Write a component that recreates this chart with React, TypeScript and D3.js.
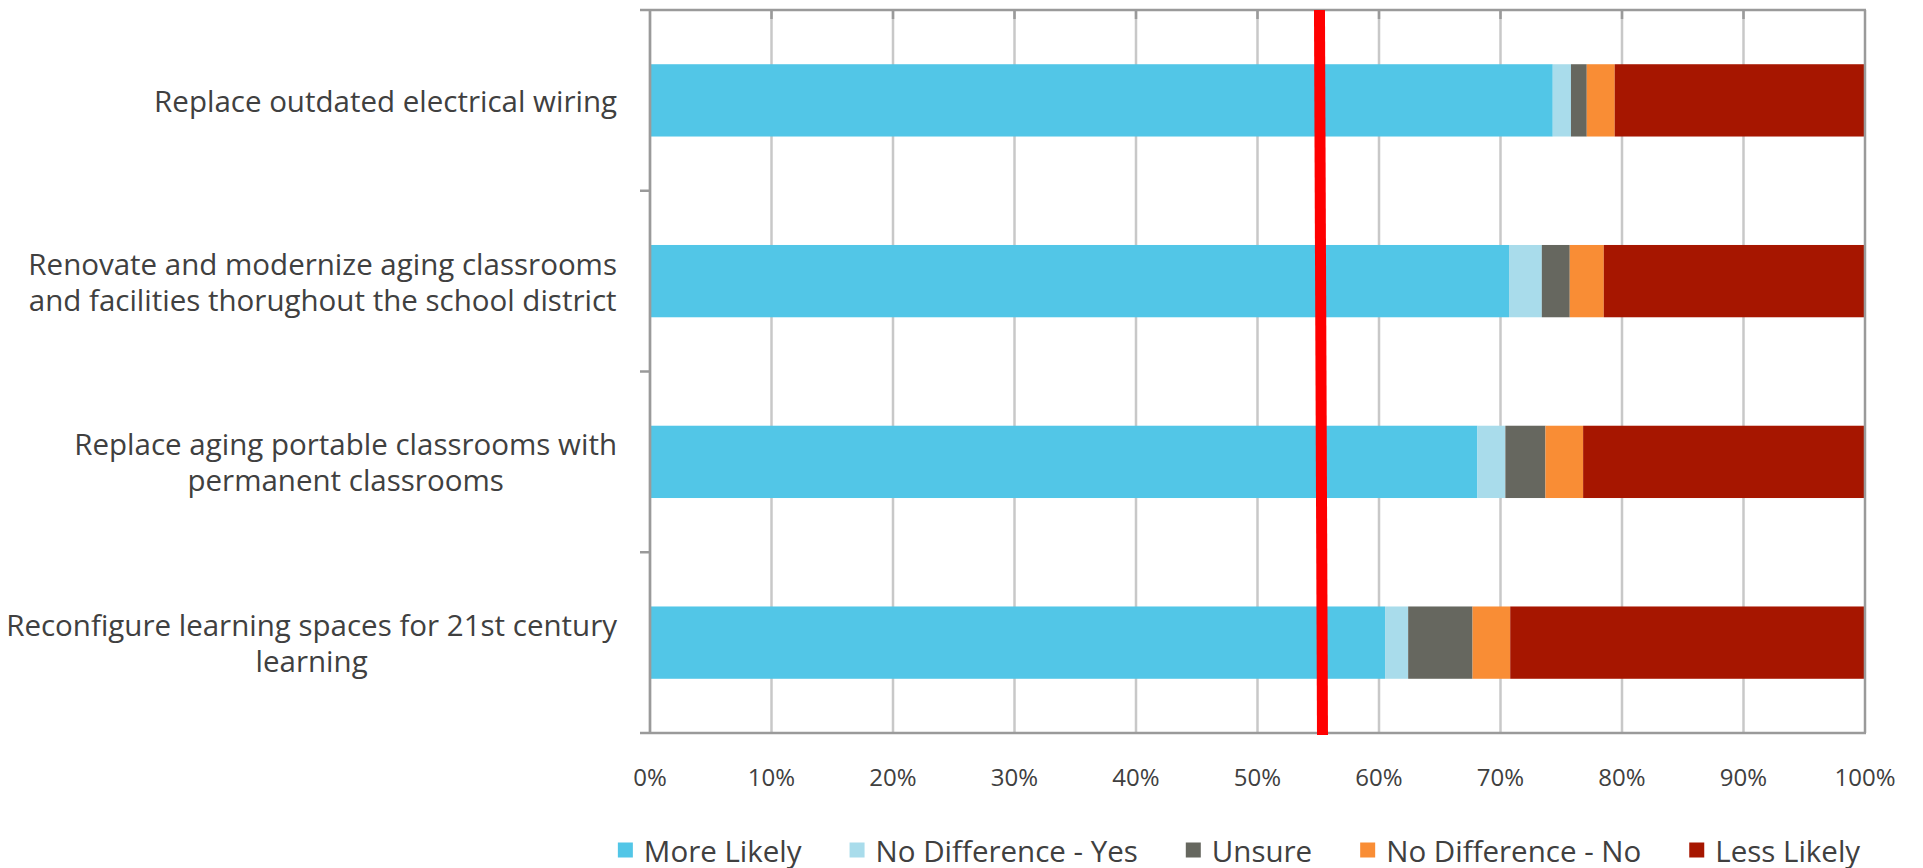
import React, { useEffect, useRef } from "react";
import * as d3 from "d3";

const categories = [
  "Replace outdated electrical wiring",
  "Renovate and modernize aging classrooms and facilities thorughout the school district",
  "Replace aging portable classrooms with permanent classrooms",
  "Reconfigure learning spaces for 21st century learning",
];
const categoryLines = [
  ["Replace outdated electrical wiring"],
  ["Renovate and modernize aging classrooms", "and facilities thorughout the school district"],
  ["Replace aging portable classrooms with", "permanent classrooms"],
  ["Reconfigure learning spaces for 21st century", "learning"],
];
const seriesNames = ["More Likely", "No Difference - Yes", "Unsure", "No Difference - No", "Less Likely"];
const moreLikely = [74.3, 70.7, 68.1, 60.5];
const noDiffYes = [1.5, 2.7, 2.3, 1.9];
const unsure = [1.3, 2.3, 3.3, 5.3];
const noDiffNo = [2.3, 2.8, 3.1, 3.1];
const lessLikely = [20.6, 21.5, 23.2, 29.2];
const xTicks = [0, 10, 20, 30, 40, 50, 60, 70, 80, 90, 100];
const xTickLabels = ["0%", "10%", "20%", "30%", "40%", "50%", "60%", "70%", "80%", "90%", "100%"];
const referenceLine = [55.1, 55.35]; // value at top, value at bottom

const colors = ["#52C6E7", "#A9DCEB", "#66675F", "#F98D35", "#A61600"];

export default function App() {
  const ref = useRef<SVGSVGElement>(null);
  useEffect(() => {
    const svg = d3.select(ref.current);
    svg.selectAll("*").remove();
    const W = 1923, H = 868;
    const left = 650, right = 1865, top = 10, bottom = 733;
    const font = "'Open Sans', sans-serif";
    const textColor = "#404040";

    const x = d3.scaleLinear().domain([0, 100]).range([left, right]);
    const y = d3.scaleBand<string>().domain(categories).range([top, bottom]).paddingInner(0.6).paddingOuter(0.3);
    const yOuter = d3.scaleBand<string>().domain(categories).range([top, bottom]);

    const series = [moreLikely, noDiffYes, unsure, noDiffNo, lessLikely];
    const rows = categories.map((c, i) => {
      const o: any = { cat: c };
      seriesNames.forEach((s, k) => (o[s] = series[k][i]));
      return o;
    });
    const stack = d3.stack<any>().keys(seriesNames)(rows);

    svg.append("rect").attr("width", W).attr("height", H).attr("fill", "#fff");

    // gridlines
    svg.append("g").selectAll("line").data(xTicks.slice(1, -1)).join("line")
      .attr("x1", (d) => x(d)).attr("x2", (d) => x(d))
      .attr("y1", top).attr("y2", bottom)
      .attr("stroke", "#C8C8C8").attr("stroke-width", 2.5);

    // bars
    stack.forEach((layer, k) => {
      svg.append("g").selectAll("rect").data(layer).join("rect")
        .attr("x", (d) => x(d[0]))
        .attr("width", (d) => x(d[1]) - x(d[0]))
        .attr("y", (d) => y(d.data.cat)!)
        .attr("height", y.bandwidth())
        .attr("fill", colors[k]);
    });

    // axes frame
    const axisColor = "#9A9A9A";
    svg.append("line").attr("x1", left).attr("x2", left).attr("y1", top).attr("y2", bottom)
      .attr("stroke", axisColor).attr("stroke-width", 2.7);
    svg.append("line").attr("x1", right).attr("x2", right).attr("y1", top).attr("y2", bottom)
      .attr("stroke", axisColor).attr("stroke-width", 2.5);
    svg.append("line").attr("x1", left - 10).attr("x2", right + 1).attr("y1", top).attr("y2", top)
      .attr("stroke", axisColor).attr("stroke-width", 2.7);
    svg.append("line").attr("x1", left - 10).attr("x2", right + 1).attr("y1", bottom).attr("y2", bottom)
      .attr("stroke", axisColor).attr("stroke-width", 2.7);
    // category ticks
    svg.append("g").selectAll("line").data(categories.slice(1)).join("line")
      .attr("x1", left - 10).attr("x2", left)
      .attr("y1", (d) => yOuter(d)!).attr("y2", (d) => yOuter(d)!)
      .attr("stroke", axisColor).attr("stroke-width", 2.5);
    // top ticks
    svg.append("g").selectAll("line").data(xTicks.slice(1, -1)).join("line")
      .attr("x1", (d) => x(d)).attr("x2", (d) => x(d))
      .attr("y1", top).attr("y2", top + 9)
      .attr("stroke", axisColor).attr("stroke-width", 2.5);

    // reference line
    svg.append("line")
      .attr("x1", x(referenceLine[0])).attr("x2", x(referenceLine[1]))
      .attr("y1", top).attr("y2", bottom + 2)
      .attr("stroke", "#FF0000").attr("stroke-width", 11);

    // x tick labels
    svg.append("g").selectAll("text").data(xTicks).join("text")
      .attr("x", (d) => x(d)).attr("y", 776)
      .attr("text-anchor", "middle").attr("dominant-baseline", "central")
      .attr("font-family", font).attr("font-size", 24).attr("fill", textColor)
      .text((d, i) => xTickLabels[i]);

    // category labels: lines centred within a block right-aligned to the axis gap
    const labelRight = 617;
    categories.forEach((c, i) => {
      const lines = categoryLines[i];
      const cy = yOuter(c)! + yOuter.bandwidth() / 2;
      const lh = 36;
      const g = svg.append("g");
      const texts = lines.map((ln, j) => {
        const ly = cy + (j - (lines.length - 1) / 2) * lh;
        return g.append("text")
          .attr("y", ly)
          .attr("text-anchor", "middle")
          .attr("dominant-baseline", "central")
          .attr("font-family", font).attr("font-size", 29.5).attr("fill", textColor)
          .text(ln);
      });
      const maxW = d3.max(texts, (t) => (t.node() as SVGTextElement).getComputedTextLength()) || 0;
      texts.forEach((t) => t.attr("x", labelRight - maxW / 2));
    });

    // legend
    const lg = svg.append("g");
    const sw = 15, gapSw = 11, gapItem = 48;
    let cur = 0;
    seriesNames.forEach((s, k) => {
      const g = lg.append("g");
      g.append("rect").attr("x", 0).attr("y", -sw / 2).attr("width", sw).attr("height", sw).attr("fill", colors[k]);
      const t = g.append("text").attr("x", sw + gapSw).attr("y", 0)
        .attr("dominant-baseline", "central")
        .attr("font-family", font).attr("font-size", 29.5).attr("fill", textColor).text(s);
      const tw = (t.node() as SVGTextElement).getComputedTextLength();
      g.attr("transform", `translate(${cur},0)`);
      cur += sw + gapSw + tw + gapItem;
    });
    const total = cur - gapItem;
    lg.attr("transform", `translate(${1239 - total / 2},850)`);
  }, []);
  return (
    <div style={{ position: "absolute", left: 0, top: 0 }}>
      <svg ref={ref} width={1923} height={868} style={{ display: "block" }} />
    </div>
  );
}
